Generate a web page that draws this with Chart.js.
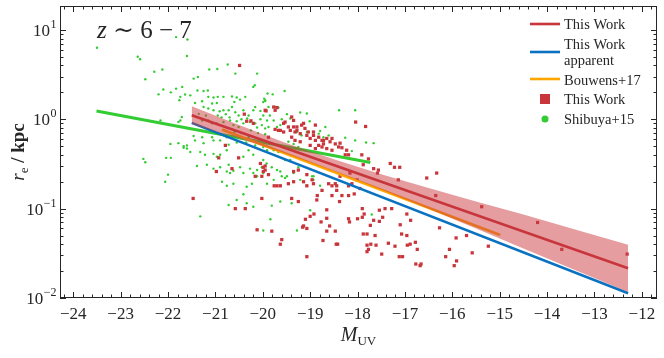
<!DOCTYPE html>
<html><head><meta charset="utf-8">
<script src="https://cdn.jsdelivr.net/npm/chart.js@4.4.1/dist/chart.umd.min.js"></script>
<style>html,body{margin:0;padding:0;background:#fff;}#wrap{width:664px;height:358px;}</style>
</head><body><div id="wrap"><canvas id="c" width="664" height="358"></canvas></div>
<script>
// ---- Data ----
const xTicks = [-24,-23,-22,-21,-20,-19,-18,-17,-16,-15,-14,-13,-12];
const yTicks = [0.01,0.1,1,10];

// This Work fit (intrinsic), apparent fit, Bouwens+17, Shibuya+15
const fitM = [-21.5, -12.29];
const fitR = [1.11, 0.0215];
const appM = [-21.5, -12.29];
const appR = [0.91, 0.0113];
const bouM = [-20.86, -14.99];
const bouR = [0.767, 0.0506];
const shiM = [-23.51, -17.73];
const shiR = [1.24, 0.328];

// Uncertainty band of This Work fit
const bandM  = [-21.5, -20.5, -19.5, -18.5, -17.5, -16.5, -15.5, -14.5, -13.5, -12.29];
const bandHi = [1.40, 0.86, 0.54, 0.356, 0.243, 0.17, 0.12, 0.0857, 0.0605, 0.0395];
const bandLo = [0.88, 0.61, 0.41, 0.264, 0.164, 0.10, 0.060, 0.0357, 0.0215, 0.0117];

// Shibuya+15 galaxies
const greenM = [-23.5,-22.64,-22.59,-21.6,-20.74,-22.29,-22.12,-22.48,-21.13,-20.96,-20.58,-20.12,-21.46,-21.37,-20.17,-20.2,-21.7,-21.83,-22.1,-22.2,-21.94,-21.74,-21.76,-21.64,-21.53,-21.38,-21.25,-21.16,-21.15,-21.04,-20.95,-20.83,-20.65,-20.55,-20.48,-20.37,-21.43,-21.28,-21.07,-20.97,-20.6,-20.65,-20.72,-20.16,-19.99,-19.95,-19.88,-21.25,-21.15,-21.04,-20.91,-20.83,-20.78,-20.58,-20.51,-20.41,-20.3,-20.2,-20.05,-19.99,-21.74,-21.78,-22.16,-21.28,-21.15,-21.07,-20.97,-20.83,-20.69,-20.62,-20.51,-20.41,-20.27,-20.16,-20.12,-20.02,-19.91,-21.46,-21.43,-21.28,-21.25,-21.07,-21.04,-20.9,-20.76,-21.95,-21.67,-21.6,-21.53,-21.32,-21.22,-21.04,-20.97,-20.9,-20.79,-20.76,-22.52,-22.48,-22.04,-21.94,-21.39,-21.18,-21.04,-20.9,-20.72,-20.76,-20.62,-20.48,-20.41,-20.27,-20.2,-20.12,-20.02,-22.0,
-19.54,-19.9,-19.79,-19.97,-19.95,-18.39,-18.05,-19.21,-19.07,-19.49,-19.42,-19.74,-19.67,-19.01,-18.68,-18.79,-17.82,-17.66,-18.26,-18.05,-19.77,-19.6,-19.7,-19.63,-19.95,-19.88,-19.28,-19.18,-19.07,-18.82,-18.72,-18.61,-18.12,-19.46,-19.35,-19.25,-19.77,-19.67,-19.53,-19.42,-19.25,-19.99,-19.92,-19.81,-19.7,-19.6,-18.96,-18.93,-19.63,-19.53,
-20.86,-20.76,-20.72,-20.41,-20.34,-20.2,-19.84,-19.63,-19.39,-19.28,-19.0,-18.65,-17.7,-21.32,-19.99,-19.81,
-21.83,-21.59,-22.06,-21.67,-21.6,-21.71,-21.78,
-20.69,-20.62,-20.55,-20.34,-20.23,-20.12,-19.99,-19.91,-19.77,-19.63,-19.49,-19.35,-19.21,-19.07,-18.93,-18.79,
-20.3,-20.23,-20.16,-20.05,-19.99,-19.91,-20.3,-20.41,-20.2,
-20.87,-20.7,-20.55,-20.45,-20.33,-20.25,-20.45,-20.6,-20.8,-21.0,-20.95,-21.2,-21.35,-20.1,-19.95,-20.35,-20.55,-20.72,-20.05,-19.85];
const greenR = [6.3,5.0,4.7,5.1,4.1,3.4,3.6,2.8,3.6,3.65,3.24,3.24,2.85,2.97,2.4,2.3,2.3,2.2,2.15,1.9,2.0,1.78,1.63,1.89,1.85,2.1,2.07,2.1,1.78,1.75,1.78,1.78,1.8,1.75,1.66,1.78,1.52,1.59,1.5,1.52,1.56,1.37,1.26,1.37,1.56,1.63,1.37,1.37,1.32,1.26,1.23,1.26,1.14,1.2,1.1,1.26,1.1,1.26,1.24,1.1,0.97,0.93,0.97,0.97,0.97,0.9,0.9,0.93,0.97,0.86,0.82,0.9,0.93,0.9,0.81,0.86,0.97,0.65,0.58,0.63,0.54,0.63,0.58,0.58,0.63,0.53,0.5,0.47,0.43,0.43,0.4,0.41,0.38,0.4,0.51,0.45,0.36,0.33,0.37,0.37,0.30,0.31,0.28,0.29,0.31,0.26,0.265,0.29,0.25,0.28,0.25,0.27,0.29,0.24,
2.07,1.94,1.9,1.7,1.6,1.26,1.26,1.19,1.16,1.14,1.02,1.37,1.35,0.95,0.82,0.74,0.55,0.54,0.62,0.58,0.97,1.0,0.82,0.86,0.79,0.82,0.72,0.66,0.72,0.69,0.63,0.66,0.44,0.56,0.53,0.49,0.45,0.43,0.35,0.35,0.29,0.35,0.32,0.29,0.27,0.23,0.23,0.21,0.26,0.22,
0.2,0.18,0.11,0.145,0.115,0.105,0.076,0.12,0.115,0.057,0.096,0.078,0.086,0.082,0.057,0.108,
8.3,7.8,0.2,0.48,0.51,1.06,0.54,
0.25,0.19,0.125,0.176,0.19,0.23,0.25,0.19,0.21,0.18,0.23,0.25,0.21,0.18,0.23,0.18,
0.63,0.58,0.51,0.58,0.49,0.45,0.45,0.38,0.4,
1.05,1.05,0.95,1.0,1.02,0.75,0.7,0.72,0.75,0.7,1.1,1.1,1.15,0.7,0.68,0.55,0.55,0.52,1.0,1.1];

// This Work galaxies
const redM = [-20.49,-20.79,-20.93,-20.98,-20.51,-20.05,-19.95,-19.99,-20.16,-20.02,-20.39,-20.34,-20.25,-20.2,-19.95,-19.88,-20.65,
-19.93,-19.7,-19.74,-19.53,-19.56,-19.14,-19.18,-18.04,-17.83,-19.46,-19.42,-19.35,-19.32,-19.28,-19.21,-19.74,-19.67,-19.56,-19.07,-19.0,-18.93,-18.89,-18.75,-18.72,-18.65,-18.54,-19.39,-19.32,-19.21,-18.82,-18.75,-18.65,-18.54,-18.47,-18.4,-18.33,-18.23,-18.26,-18.19,-17.91,-17.77,-19.0,-18.89,-17.88,-17.66,-17.58,-17.31,-17.22,-17.11,-17.14,-16.54,-16.33,-19.95,-19.99,-19.88,-19.35,-19.25,-19.07,-18.96,-19.14,-18.61,-18.44,-18.19,-18.12,-18.01,-19.76,-19.63,
-20.37,-20.02,-20.12,-19.81,-19.6,-19.63,-19.07,-19.7,-19.46,-19.35,-19.25,-19.39,-19.14,-19.0,-18.92,-19.1,-19.16,-19.07,-19.07,-18.93,-18.85,-18.86,-18.75,-18.65,-18.65,-18.77,-18.73,-18.65,-18.59,-18.47,-18.45,-18.42,-18.54,-18.44,-18.38,-18.33,-18.19,-18.19,-18.17,-18.0,-17.9,-17.86,-17.9,-18.07,-17.95,-17.88,-17.8,-17.73,-17.63,-17.66,-17.54,-17.54,-17.47,-17.8,-17.77,-17.8,-17.72,-17.61,-17.49,-17.42,-17.28,-17.35,-17.21,-17.1,-17.07,-16.96,-16.96,-16.88,-17.12,-17.05,-16.95,-16.89,-16.78,-16.74,-16.77,-16.68,-16.66,-16.35,-16.27,-16.14,-16.06,-15.92,-15.91,-15.96,-17.56,-18.16,-18.37,-18.54,-18.47,
-15.38,-14.2,-13.69,-12.31,-15.7,-15.24,-15.58,-21.47,-20.58,-19.77,
-19.63,-19.28,-19.11,-19.04,-18.93,-18.82,-18.72,-18.58,-18.37,-18.89,-19.35,-19.39];
const redR = [4.0,0.51,0.37,0.26,0.37,0.32,0.30,0.26,0.23,0.23,1.14,0.95,0.96,0.9,1.26,0.63,0.28,
1.24,1.35,1.26,0.93,0.9,0.9,0.86,0.93,0.83,0.82,0.75,0.82,0.72,0.75,0.69,0.77,0.75,0.72,0.66,0.61,0.66,0.58,0.58,0.53,0.61,0.61,0.63,0.58,0.56,0.51,0.49,0.47,0.45,0.53,0.49,0.48,0.45,0.4,0.4,0.4,0.36,0.51,0.47,0.31,0.28,0.25,0.32,0.29,0.29,0.21,0.22,0.25,0.27,0.29,0.24,0.26,0.27,0.24,0.21,0.2,0.19,0.18,0.18,0.19,0.21,0.18,0.18,
0.1,0.13,0.058,0.056,0.045,0.04,0.029,0.18,0.19,0.2,0.12,0.13,0.064,0.082,0.087,0.076,0.062,0.06,0.18,0.19,0.14,0.125,0.16,0.097,0.078,0.071,0.044,0.056,0.064,0.056,0.04,0.04,0.14,0.16,0.12,0.14,0.14,0.077,0.071,0.077,0.08,0.087,0.1,0.146,0.168,0.052,0.052,0.065,0.05,0.074,0.072,0.096,0.08,0.039,0.035,0.033,0.04,0.039,0.031,0.1,0.1,0.041,0.038,0.066,0.052,0.05,0.087,0.074,0.029,0.029,0.039,0.04,0.042,0.035,0.024,0.023,0.024,0.14,0.061,0.029,0.035,0.047,0.026,0.023,0.27,0.25,0.23,0.18,0.19,
0.105,0.07,0.035,0.031,0.05,0.038,0.032,0.13,0.1,1.37,
0.75,0.82,0.79,0.72,0.72,0.63,0.58,0.56,0.54,0.86,0.97,1.06];

// ---- Styles ----
const SERIF = '"Liberation Serif", "DejaVu Serif", serif';
const RED = '#c8363c', BLUE = '#0a72c1', ORANGE = '#ffa500', GREEN = '#33cc33';
const INK = '#262626';

const pts = (xs, ys) => xs.map((x, i) => ({x, y: ys[i]}));

function lineDs(xs, ys, color, w) {
  return {type: 'line', data: pts(xs, ys), borderColor: color, borderWidth: w,
    pointRadius: 0, fill: false, tension: 0};
}

const datasets = [
  lineDs(fitM, fitR, RED, 2.5),
  {type: 'line', data: pts(bandM, bandHi), borderWidth: 0, borderColor: 'rgba(0,0,0,0)', pointRadius: 0,
   fill: '+1', backgroundColor: 'rgba(204,60,66,0.5)', tension: 0},
  {type: 'line', data: pts(bandM, bandLo), borderWidth: 0, borderColor: 'rgba(0,0,0,0)', pointRadius: 0,
   fill: false, tension: 0},
  lineDs(appM, appR, BLUE, 2.6),
  lineDs(bouM, bouR, ORANGE, 2.6),
  lineDs(shiM, shiR, GREEN, 3),
  {type: 'scatter', data: pts(redM, redR), pointStyle: 'rect', pointRadius: 2.3,
   backgroundColor: RED, borderWidth: 0},
  {type: 'scatter', data: pts(greenM, greenR), pointStyle: 'circle', pointRadius: 1.2,
   backgroundColor: GREEN, borderWidth: 0}
];

function minus(v) { return v < 0 ? '\u2212' + Math.abs(v) : String(v); }

const decor = {
  id: 'decor',
  afterDraw(chart) {
    const ctx = chart.ctx, a = chart.chartArea;
    const xs = chart.scales.x, ys = chart.scales.y;
    ctx.save();
    // frame
    ctx.strokeStyle = INK; ctx.lineWidth = 1;
    ctx.strokeRect(a.left + 0.5, a.top + 0.5, a.right - a.left - 1, a.bottom - a.top - 1);
    // x ticks (inward on bottom and top)
    ctx.beginPath();
    for (let k = Math.ceil(xs.min * 5); k <= Math.floor(xs.max * 5); k++) {
      const v = k / 5;
      const px = Math.round(xs.getPixelForValue(v)) + 0.5;
      const len = (k % 5 === 0) ? 6 : 3.5;
      ctx.moveTo(px, a.bottom); ctx.lineTo(px, a.bottom - len);
      ctx.moveTo(px, a.top); ctx.lineTo(px, a.top + len);
    }
    // y ticks (log)
    for (let e = -2; e <= 1; e++) {
      for (let m = 1; m <= 9; m++) {
        const v = m * Math.pow(10, e);
        if (v < ys.min * 0.999 || v > ys.max) continue;
        const py = Math.round(ys.getPixelForValue(v)) + 0.5;
        const len = (m === 1) ? 6 : 3.5;
        ctx.moveTo(a.left, py); ctx.lineTo(a.left + len, py);
        ctx.moveTo(a.right, py); ctx.lineTo(a.right - len, py);
      }
    }
    ctx.stroke();

    // y tick labels 10^n
    ctx.fillStyle = INK; ctx.textBaseline = 'alphabetic';
    yTicks.forEach(v => {
      const e = Math.round(Math.log10(v));
      const py = ys.getPixelForValue(v);
      ctx.font = '17px ' + SERIF;
      const w1 = ctx.measureText('10').width;
      ctx.font = '12px ' + SERIF;
      const es = minus(e);
      const w2 = ctx.measureText(es).width;
      const x0 = a.left - 4 - w1 - w2;
      ctx.font = '17px ' + SERIF; ctx.textAlign = 'left';
      ctx.fillText('10', x0, py + 6);
      ctx.font = '12px ' + SERIF;
      ctx.fillText(es, x0 + w1 + 0.5, py - 2);
    });

    // x axis title M_UV
    ctx.textAlign = 'left';
    ctx.font = 'italic 20px ' + SERIF;
    const wM = ctx.measureText('M').width;
    ctx.font = '13px ' + SERIF;
    const wUV = ctx.measureText('UV').width;
    const cx = (a.left + a.right) / 2;
    let x0 = cx - (wM + wUV) / 2;
    ctx.font = 'italic 20px ' + SERIF; ctx.fillText('M', x0, 341);
    ctx.font = '13px ' + SERIF; ctx.fillText('UV', x0 + wM, 345);

    // y axis title r_e / kpc (rotated)
    ctx.save();
    ctx.translate(24, (a.top + a.bottom) / 2);
    ctx.rotate(-Math.PI / 2);
    ctx.font = 'italic 19px ' + SERIF; const wr = ctx.measureText('r').width;
    ctx.font = '13px ' + SERIF; const we = ctx.measureText('e').width;
    ctx.font = 'bold 19px ' + SERIF; const wk = ctx.measureText(' / kpc').width;
    let yx = -(wr + we + wk) / 2;
    ctx.font = 'italic 19px ' + SERIF; ctx.fillText('r', yx, 0);
    ctx.font = '13px ' + SERIF; ctx.fillText('e', yx + wr, 4);
    ctx.font = 'bold 19px ' + SERIF; ctx.fillText(' / kpc', yx + wr + we, 0);
    ctx.restore();

    // annotation z ~ 6 - 7
    ctx.font = 'italic 25px ' + SERIF;
    ctx.fillText('z', 97, 38);
    const wz = ctx.measureText('z').width;
    ctx.font = '25px ' + SERIF;
    ctx.fillText(' \u223C 6 \u2212 7', 97 + wz, 38);

    // legend
    const lx0 = 530, lx1 = 560, tx = 564;
    ctx.font = '14.5px ' + SERIF;
    const row = (y, txt) => { ctx.fillStyle = INK; ctx.fillText(txt, tx, y + 5); };
    const seg = (y, col) => { ctx.strokeStyle = col; ctx.lineWidth = 2.6; ctx.beginPath(); ctx.moveTo(lx0, y); ctx.lineTo(lx1, y); ctx.stroke(); };
    seg(24, RED); row(24, 'This Work');
    seg(52, BLUE); row(44, 'This Work'); row(60, 'apparent');
    seg(79, ORANGE); row(80, 'Bouwens+17');
    ctx.fillStyle = RED; ctx.fillRect(540, 94, 10, 10); row(99, 'This Work');
    ctx.fillStyle = GREEN; ctx.beginPath(); ctx.arc(545, 119, 3.5, 0, Math.PI * 2); ctx.fill(); row(119, 'Shibuya+15');
    ctx.restore();
  }
};

new Chart(document.getElementById('c'), {
  type: 'scatter',
  data: {datasets},
  options: {
    responsive: false, animation: false,
    layout: {padding: {left: 0, right: 7, top: 6, bottom: 0}},
    plugins: {legend: {display: false}, tooltip: {enabled: false}},
    scales: {
      x: {type: 'linear', min: -24.28, max: -11.68,
        afterBuildTicks: s => { s.ticks = xTicks.map(v => ({value: v})); },
        afterFit: s => { s.height = 60; },
        grid: {display: false, drawTicks: false}, border: {display: false},
        ticks: {autoSkip: false, maxRotation: 0, padding: 6, color: INK,
          font: {family: SERIF, size: 17}, callback: v => minus(v)}},
      y: {type: 'logarithmic', min: 0.01, max: 18.5,
        afterBuildTicks: s => { s.ticks = yTicks.map(v => ({value: v})); },
        afterFit: s => { s.width = 60; },
        grid: {display: false, drawTicks: false}, border: {display: false},
        ticks: {display: false}}
    }
  },
  plugins: [decor]
});
</script></body></html>
